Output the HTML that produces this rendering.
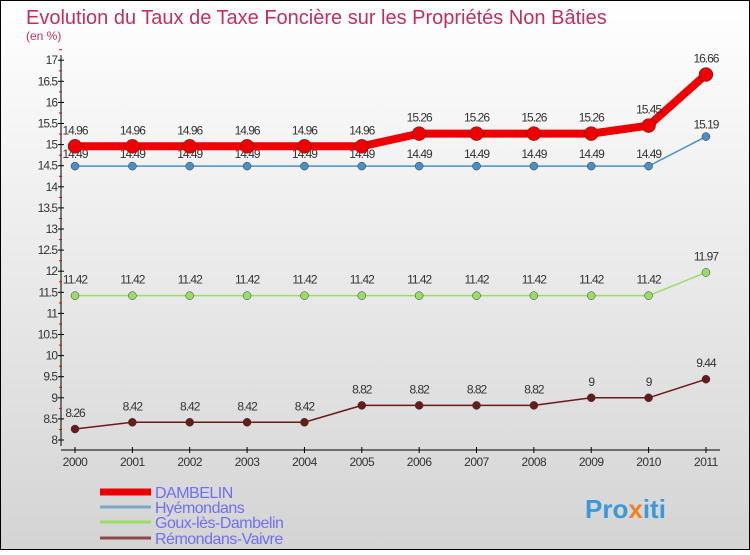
<!DOCTYPE html>
<html><head><meta charset="utf-8"><style>
body{margin:0;width:750px;height:550px;overflow:hidden;font-family:"Liberation Sans",sans-serif}
</style></head><body>
<svg width="750" height="550" xmlns="http://www.w3.org/2000/svg">
<defs><linearGradient id="bg" x1="0" y1="0" x2="0" y2="1"><stop offset="0" stop-color="#ffffff"/><stop offset="1" stop-color="#d4d4d4"/></linearGradient></defs>
<rect x="0.5" y="0.5" width="749" height="549" fill="url(#bg)" stroke="#000"/>
<text x="26" y="24" font-size="20" fill="#c0305a">Evolution du Taux de Taxe Foncière sur les Propriétés Non Bâties</text>
<text x="26" y="40" font-size="12" fill="#c0305a">(en %)</text>
<g id="axes"></g><g id="series"></g><g id="legend"></g>
<text x="585" y="518" font-size="26" font-weight="bold" fill="#3a9ad9">Pro<tspan fill="#f08020">x</tspan>iti</text>
</svg>
<script>
const years=[2000,2001,2002,2003,2004,2005,2006,2007,2008,2009,2010,2011];
const yTicks=[8,8.5,9,9.5,10,10.5,11,11.5,12,12.5,13,13.5,14,14.5,15,15.5,16,16.5,17];
const names=["DAMBELIN","Hyémondans","Goux-lès-Dambelin","Rémondans-Vaivre"];
const dambelin=[14.96,14.96,14.96,14.96,14.96,14.96,15.26,15.26,15.26,15.26,15.45,16.66];
const hyemondans=[14.49,14.49,14.49,14.49,14.49,14.49,14.49,14.49,14.49,14.49,14.49,15.19];
const goux=[11.42,11.42,11.42,11.42,11.42,11.42,11.42,11.42,11.42,11.42,11.42,11.97];
const remondans=[8.26,8.42,8.42,8.42,8.42,8.82,8.82,8.82,8.82,9,9,9.44];
const NS="http://www.w3.org/2000/svg";
const X=i=>75+i*57.36, Y=v=>440-(v-8)*42.2;
function mk(p,t,a){const e=document.createElementNS(NS,t);for(const k in a)e.setAttribute(k,a[k]);p.appendChild(e);return e;}
const ax=document.getElementById('axes');
let l=mk(ax,'line',{x1:61,y1:55,x2:61,y2:446,stroke:'#000'});


l=mk(ax,'line',{x1:61,y1:450,x2:720,y2:450,stroke:'#000'});


yTicks.forEach(v=>{const y=Y(v);
 mk(ax,'line',{x1:58,y1:y,x2:64,y2:y,stroke:'#000'});
 mk(ax,'line',{x1:59,y1:y-10.5,x2:62,y2:y-10.5,stroke:'#e00'});
 const t=mk(ax,'text',{x:57,y:y+4,'font-size':12,fill:'#333','text-anchor':'end','letter-spacing':'-1'});t.textContent=v;
 
 });
years.forEach((yr,i)=>{const x=X(i);
 mk(ax,'line',{x1:x,y1:447,x2:x,y2:453,stroke:'#000'});
 const t=mk(ax,'text',{x:x,y:466,'font-size':12,fill:'#333','text-anchor':'middle','letter-spacing':'-0.5'});t.textContent=yr;
 
 });
const sr=document.getElementById('series');
function draw(vals,color,w,r,name,dy){
 const g=mk(sr,'g',{});
 
 
 mk(g,'polyline',{points:vals.map((v,i)=>X(i)+','+Y(v)).join(' '),fill:'none',stroke:color,'stroke-width':w,'stroke-linejoin':'round'});
 vals.forEach((v,i)=>{const c=mk(g,'circle',{cx:X(i),cy:Y(v),r:r,fill:color,stroke:'#333','stroke-width':0.5});
  
  
  const t=mk(g,'text',{x:X(i),y:Y(v)+dy,'font-size':12,fill:'#333','text-anchor':'middle','letter-spacing':'-1'});t.textContent=v;
  
  });
}
draw(remondans,'#6b1a1a',1.5,4,'series-remondans',-12);
draw(goux,'#99dd66',1.5,4,'series-goux',-12);
draw(hyemondans,'#4a90c8',1.5,4,'series-hyemondans',-8);
draw(dambelin,'#ee0000',8,7,'series-dambelin',-12);
const lg=document.getElementById('legend');
const lc=['#ee0000','#7aa8c8','#99dd66','#8b4a4a'],lw=[7,3,3,3],ly=[492,507,522,538];
names.forEach((n,i)=>{
 const g=mk(lg,'g',{});
 
 
 mk(g,'line',{x1:100,y1:ly[i],x2:151,y2:ly[i],stroke:lc[i],'stroke-width':lw[i]});
 const t=mk(g,'text',{x:155,y:ly[i]+6,'font-size':16,fill:'#6f6ff0','letter-spacing':'-0.5'});t.textContent=n;
});
</script>
</body></html>
